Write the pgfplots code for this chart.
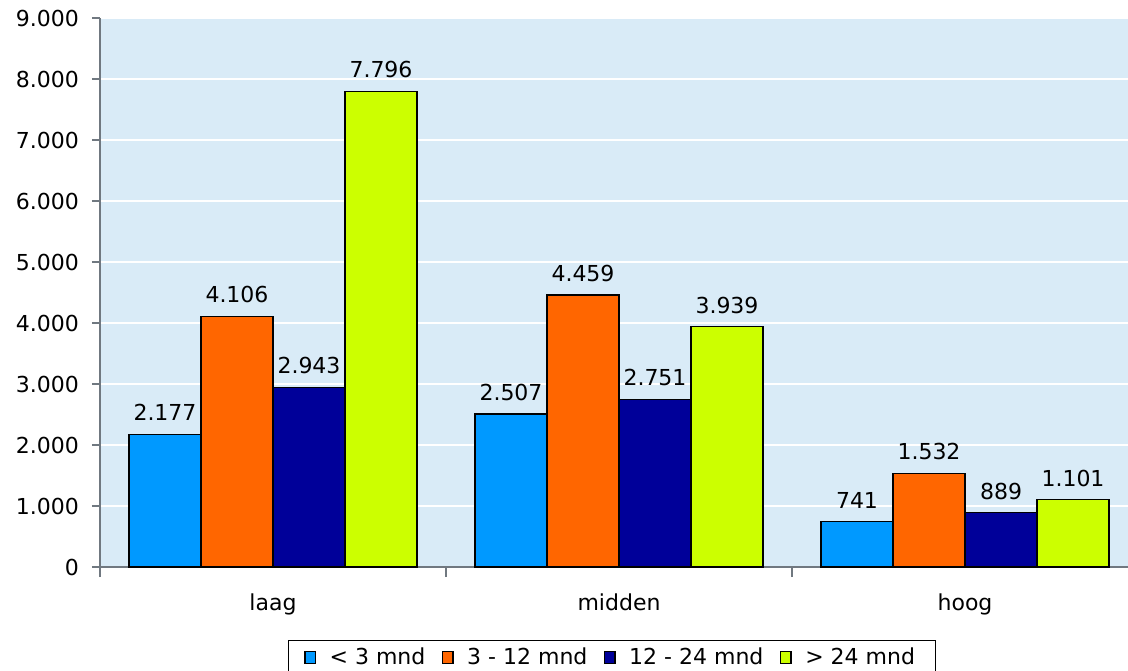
\documentclass[border=0pt]{standalone}
\usepackage{pgfplots}
\pgfplotsset{compat=1.18}
\usepackage{fontspec}
\setmainfont{DejaVu Sans}
\definecolor{bgblue}{HTML}{D9EBF7}
\definecolor{cA}{HTML}{0099FF}
\definecolor{cB}{HTML}{FF6600}
\definecolor{cC}{HTML}{000099}
\definecolor{cD}{HTML}{CCFF00}
\definecolor{axgray}{HTML}{707880}
\begin{document}
\begin{tikzpicture}
\path[use as bounding box] (0,0) rectangle (564pt,335pt);
\begin{axis}[
    at={(50pt,51.5pt)}, anchor=south west,
    scale only axis,
    width=519pt, height=274.5pt,
    ybar=0pt, bar width=36pt,
    xmin=-0.5, xmax=2.5,
    ymin=0, ymax=9000,
    ytick={0,1000,...,9000},
    xtick={0,1,2},
    xticklabels={laag,midden,hoog},
    minor xtick={-0.5,0.5,1.5,2.5},
    major x tick style={draw=none},
    minor tick length=5pt,
    major tick length=4pt,
    tick align=outside,
    tick style={axgray, line width=0.8pt},
    axis lines*=left,
    axis line style={axgray, line width=1pt},
    axis background/.style={fill=bgblue},
    ymajorgrids, grid style={white, line width=0.6pt},
    font=\fontsize{11pt}{13pt}\selectfont,
    /pgf/number format/.cd, 1000 sep={.}, assume math mode=true,
    /pgfplots/.cd,
    yticklabel style={xshift=-3pt},
    xticklabel style={yshift=-6pt},
    nodes near coords,
    nodes near coords style={font=\fontsize{11pt}{13pt}\selectfont, yshift=3pt},
    legend columns=4,
    legend style={at={(0.493,-0.133)}, anchor=north, draw=black, line width=0.5pt,
      font=\fontsize{11pt}{13pt}\selectfont, inner xsep=8pt, inner ysep=1.5pt,
      /tikz/every odd column/.append style={column sep=4.8pt},
      /tikz/every even column/.append style={column sep=6.3pt}},
    legend image code/.code={\draw[#1, draw=black, line width=0.6pt] (0pt,-3pt) rectangle (5.2pt,3pt);},
    every axis plot/.append style={draw=black, line width=0.6pt},
]
\addplot[fill=cA] coordinates {(0,2177) (1,2507) (2,741)};
\addplot[fill=cB] coordinates {(0,4106) (1,4459) (2,1532)};
\addplot[fill=cC] coordinates {(0,2943) (1,2751) (2,889)};
\addplot[fill=cD] coordinates {(0,7796) (1,3939) (2,1101)};
\legend{< 3 mnd, 3 - 12 mnd, 12 - 24 mnd, > 24 mnd}
\end{axis}
\end{tikzpicture}
\end{document}
